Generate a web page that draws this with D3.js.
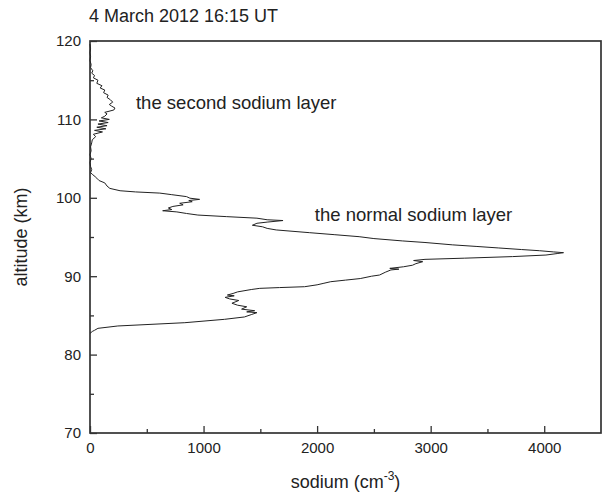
<!DOCTYPE html>
<html>
<head>
<meta charset="utf-8">
<script src="https://cdnjs.cloudflare.com/ajax/libs/d3/7.8.5/d3.min.js"></script>
<style>
  body { margin: 0; background: #fff; }
  svg text { font-family: "Liberation Sans", Arial, sans-serif; fill: #222; }
</style>
</head>
<body>
<script>
// profile, bottom to top
var altitude = [82.7, 82.95, 83.1, 83.35, 83.65, 84.07, 84.5, 84.8, 85.1, 85.35, 85.45, 85.6, 85.8, 86.1, 86.3, 86.55, 86.9, 87.1, 87.3, 87.5, 87.6, 87.8, 88.0, 88.3, 88.45, 88.55, 88.66, 88.9, 89.1, 89.3, 89.5, 89.7, 90.0, 90.15, 90.5, 90.8, 90.9, 91.0, 91.2, 91.4, 91.6, 91.85, 92.0, 92.15, 92.3, 92.5, 92.7, 92.9, 93.0, 93.1, 93.25, 93.4, 93.6, 93.8, 94.0, 94.3, 94.5, 94.8, 95.04, 95.3, 95.55, 95.9, 96.1, 96.3, 96.5, 96.75, 96.9, 97.1, 97.2, 97.4, 97.6, 97.8, 98.0, 98.2, 98.35, 98.5, 98.7, 98.9, 99.1, 99.3, 99.5, 99.65, 99.8, 99.95, 100.15, 100.4, 100.6, 100.75, 100.9, 101.2, 101.5, 101.9, 102.2, 102.5, 102.7, 103.0, 103.2, 103.6, 104.0, 104.5, 105.0, 105.5, 106.0, 106.5, 107.0, 107.4, 107.8, 108.1, 108.4, 108.6, 108.8, 109.0, 109.2, 109.4, 109.6, 109.8, 110.0, 110.2, 110.4, 110.7, 110.9, 111.2, 111.45, 111.7, 111.9, 112.2, 112.5, 112.8, 113.1, 113.4, 113.75, 114.0, 114.3, 114.6, 115.0, 115.3, 115.6, 115.9, 116.2, 116.6, 117.0, 117.5, 118.0, 118.5, 119.0, 119.6];
var sodium = [0, 20, 40, 70, 245, 835, 1185, 1360, 1420, 1470, 1380, 1450, 1335, 1380, 1300, 1250, 1310, 1230, 1190, 1270, 1210, 1260, 1300, 1420, 1495, 1670, 1890, 2000, 2060, 2120, 2250, 2380, 2480, 2550, 2600, 2650, 2720, 2640, 2760, 2840, 2870, 2930, 2850, 2950, 3300, 3720, 4015, 4120, 4170, 4080, 3960, 3800, 3600, 3400, 3190, 2950, 2750, 2500, 2370, 2150, 1935, 1640, 1560, 1520, 1430, 1470, 1560, 1700, 1560, 1470, 1200, 950, 850, 765, 640, 720, 690, 730, 820, 790, 900, 870, 965, 880, 850, 720, 615, 400, 265, 175, 150, 130, 80, 60, 45, 20, 5, 15, 5, 0, 10, 0, 10, 5, 15, 20, 50, 30, 110, 40, 140, 60, 150, 70, 160, 80, 170, 100, 130, 150, 130, 210, 220, 190, 170, 200, 180, 150, 160, 120, 130, 90, 105, 60, 70, 30, 40, 15, 25, 5, 10, 0, 5, 0, 5, 0];

var xTicks = [0, 1000, 2000, 3000, 4000];
var yTicks = [70, 80, 90, 100, 110, 120];
var title = "4 March 2012 16:15 UT";
var notes = [
  {text: "the second sodium layer", alt: 111.3, na: 405},
  {text: "the normal sodium layer", alt: 97.05, na: 1980}
];

var width = 603, height = 494;
var margin = {top: 41, right: 2, bottom: 61, left: 90};

var svg = d3.select("body").append("svg")
    .attr("width", width)
    .attr("height", height);

var x = d3.scaleLinear().domain([0, 4500]).range([margin.left, width - margin.right]);
var y = d3.scaleLinear().domain([70, 120]).range([height - margin.bottom, margin.top]);

//minor ticks first, then major with labels
svg.append("g")
    .attr("transform", "translate(0," + y(70) + ")")
    .call(d3.axisBottom(x).tickValues(d3.range(500, 4500, 1000)).tickSize(-4).tickFormat(""));
svg.append("g")
    .attr("class", "xaxis")
    .attr("transform", "translate(0," + y(70) + ")")
    .call(d3.axisBottom(x).tickValues(xTicks).tickSize(-7).tickPadding(9).tickFormat(d3.format("d")));

svg.append("g")
    .attr("transform", "translate(" + x(0) + ",0)")
    .call(d3.axisLeft(y).tickValues(d3.range(75, 120, 10)).tickSize(-4).tickFormat(""));
svg.append("g")
    .attr("class", "yaxis")
    .attr("transform", "translate(" + x(0) + ",0)")
    .call(d3.axisLeft(y).tickValues(yTicks).tickSize(-7).tickPadding(9));

svg.selectAll(".domain").remove();
svg.selectAll(".tick line").attr("stroke", "#333").attr("stroke-width", 1.3);
svg.selectAll(".tick text").style("font-size", "15px").attr("fill", "#222");

svg.append("rect")
    .attr("x", x(0))
    .attr("y", y(120))
    .attr("width", x(4500) - x(0))
    .attr("height", y(70) - y(120))
    .attr("fill", "none")
    .attr("stroke", "#333")
    .attr("stroke-width", 1.7);

var pts = altitude.map(function(a, i) { return [sodium[i], a]; });
var line = d3.line()
    .x(function(d) { return x(d[0]); })
    .y(function(d) { return y(d[1]); });

svg.append("path")
    .datum(pts)
    .attr("d", line)
    .attr("fill", "none")
    .attr("stroke", "#222")
    .attr("stroke-width", 1);

svg.append("text")
    .attr("x", 89)
    .attr("y", 22)
    .style("font-size", "18px")
    .text(title);

svg.selectAll(".note")
    .data(notes)
    .enter()
    .append("text")
    .attr("class", "note")
    .attr("x", function(d) { return x(d.na); })
    .attr("y", function(d) { return y(d.alt); })
    .style("font-size", "18.5px")
    .text(function(d) { return d.text; });

svg.append("text")
    .attr("transform", "translate(27," + ((y(70) + y(120)) / 2) + ") rotate(-90)")
    .attr("text-anchor", "middle")
    .style("font-size", "18px")
    .text("altitude (km)");

var xl = svg.append("text")
    .attr("x", (x(0) + x(4500)) / 2)
    .attr("y", 488)
    .attr("text-anchor", "middle")
    .style("font-size", "18px");
xl.append("tspan").text("sodium (cm");
xl.append("tspan").attr("dy", -8).style("font-size", "12px").text("-3");
xl.append("tspan").attr("dy", 8).text(")");
</script>
</body>
</html>
